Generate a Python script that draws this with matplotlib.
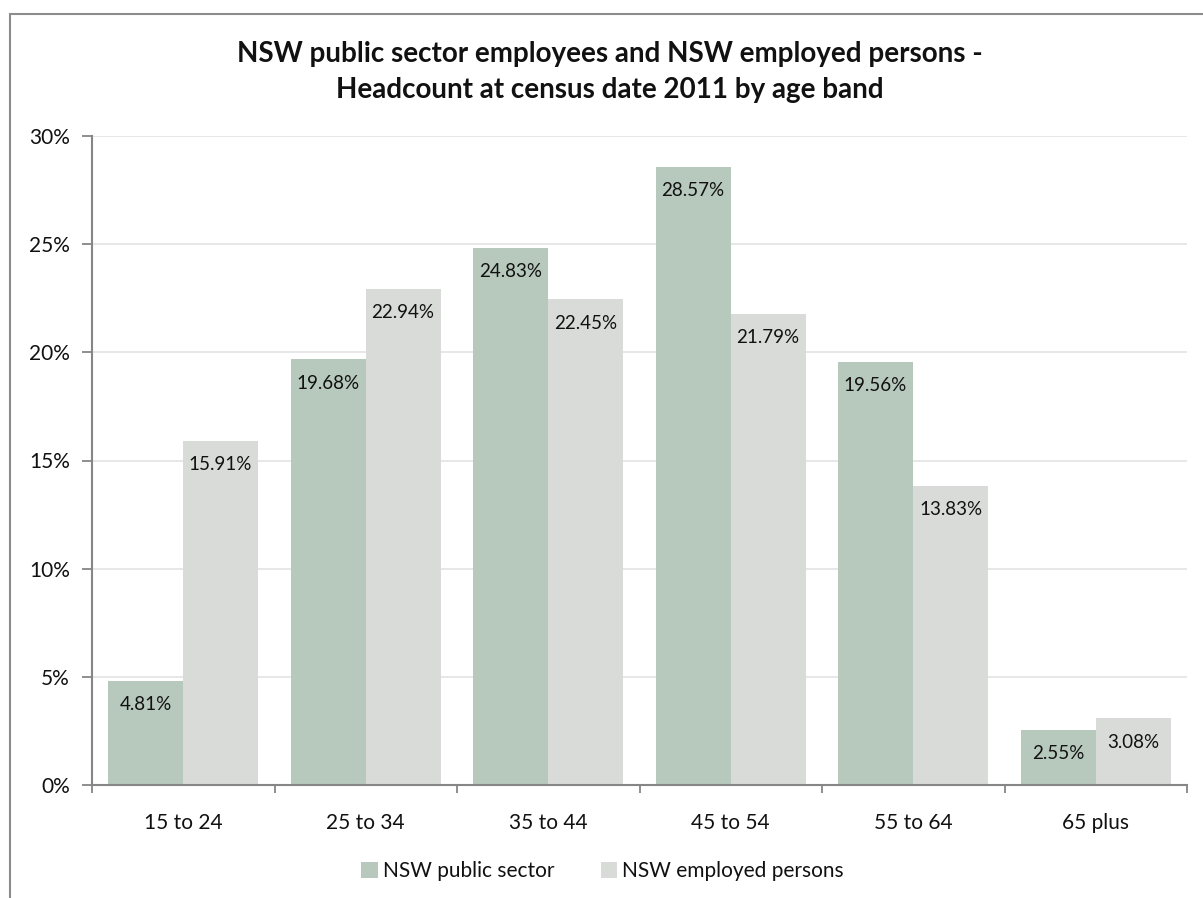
import matplotlib
matplotlib.use("Agg")
import matplotlib.pyplot as plt
import matplotlib.patches as mpatches
from matplotlib.ticker import FuncFormatter
import numpy as np

categories = ["15 to 24", "25 to 34", "35 to 44", "45 to 54", "55 to 64", "65 plus"]
public_sector = [4.81, 19.68, 24.83, 28.57, 19.56, 2.55]
employed_persons = [15.91, 22.94, 22.45, 21.79, 13.83, 3.08]
series_names = ["NSW public sector", "NSW employed persons"]
title = "NSW public sector employees and NSW employed persons -\nHeadcount at census date 2011 by age band"

plt.rcParams['font.family'] = ['Lato', 'DejaVu Sans']

W, H = 1203, 898
fig = plt.figure(figsize=(W/100, H/100), dpi=100)
ax = fig.add_axes([92/W, 1-785/H, (1187-92)/W, (785-136)/H])

green = "#B7C8BD"
gray = "#D9DBD9"
x = np.arange(len(categories))
bw = 0.411
off = 0.0877
left_green = x - 0.5 + off
left_gray = left_green + bw

b1 = ax.bar(left_green, public_sector, width=bw, align='edge', color=green, label=series_names[0], zorder=2)
b2 = ax.bar(left_gray, employed_persons, width=bw, align='edge', color=gray, label=series_names[1], zorder=2)

for bars, vals in ((b1, public_sector), (b2, employed_persons)):
    for r, v in zip(bars, vals):
        ax.annotate(f"{v:.2f}%", xy=(r.get_x() + r.get_width()/2, v), xytext=(0, -11),
                    textcoords='offset points', ha='center', va='top', fontsize=13.5, color='#111111', zorder=3)

ax.set_xlim(-0.5, len(categories) - 0.5)
ax.set_ylim(0, 30)
ax.set_yticks(np.arange(0, 31, 5))
ax.yaxis.set_major_formatter(FuncFormatter(lambda v, p: f"{int(v)}%"))
ax.set_xticks(x)
ax.set_xticklabels(categories)
ax.set_xticks(np.arange(-0.5, len(categories)), minor=True)
ax.tick_params(axis='x', which='major', length=0, pad=20, labelsize=15, colors='#111111')
ax.tick_params(axis='x', which='minor', length=6, width=1.3, color='#868686')
ax.tick_params(axis='y', length=7, width=1.3, color='#868686', labelsize=15, labelcolor='#111111', pad=9)

ax.grid(axis='y', color='#E3E3E3', linewidth=1.2, zorder=0)
ax.set_axisbelow(True)
for s in ['top', 'right']:
    ax.spines[s].set_visible(False)
for s in ['left', 'bottom']:
    ax.spines[s].set_color('#868686')
    ax.spines[s].set_linewidth(1.5)

fig.text(0.507, 1-72/H, title, ha='center', va='center', fontsize=20, fontweight='bold',
         linespacing=1.5, color='#111111')

leg = fig.legend(handles=[b1, b2], labels=series_names, loc='center', bbox_to_anchor=(0.501, 1-871/H),
                 ncol=2, frameon=False, fontsize=15, handlelength=0.8, handleheight=0.8,
                 handletextpad=0.25, columnspacing=2.2)
for t in leg.get_texts():
    t.set_color('#111111')

border = mpatches.Rectangle((10/W, -0.1), 1.2, 1.1 - 14/H, transform=fig.transFigure,
                            fill=False, edgecolor='#8C8C8C', linewidth=1.5)
fig.patches.append(border)

fig.savefig("out.png", dpi=100)
